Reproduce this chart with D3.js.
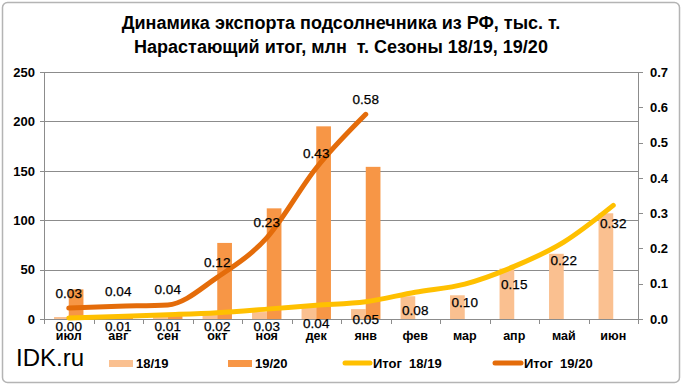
<!DOCTYPE html>
<html>
<head>
<meta charset="utf-8">
<title>Динамика экспорта подсолнечника</title>
<style type="text/css">
	body { margin: 0; background: #fff; }
	#chart { width: 682px; height: 389px; display: block; }
	text { font-family: "Liberation Sans", Arial, sans-serif; fill: #000; }
	.title { font-size: 18px; font-weight: bold; text-anchor: middle; }
	.tickLabel { font-size: 13px; font-weight: bold; }
	.monthLabel { font-size: 12.5px; font-weight: bold; text-anchor: middle; }
	.dataLabel { font-size: 13.5px; text-anchor: middle; stroke: #000; stroke-width: 0.25px; }
	.legendText { font-size: 13px; font-weight: bold; white-space: pre; }
	.grid { stroke: #8c8c8c; stroke-width: 1; shape-rendering: crispEdges; }
	.axisLine { stroke: #8c8c8c; stroke-width: 1; shape-rendering: crispEdges; }
</style>
</head>
<body>

<svg id="chart"></svg>

<script src="https://cdn.jsdelivr.net/npm/d3@7"></script>
<script>

// данные
var months = ['июл', 'авг', 'сен', 'окт', 'ноя', 'дек', 'янв', 'фев', 'мар', 'апр', 'май', 'июн'];
var seasons = ['18/19', '19/20'];

// экспорт за месяц, тыс. т
var export1819 = [2, 1, 3, 5, 7, 12, 10, 23, 24, 51, 66, 107];
var export1920 = [30, 4, 4, 77, 112, 195, 154];

// нарастающий итог, млн т
var total1819 = [0.003, 0.007, 0.012, 0.018, 0.028, 0.039, 0.049, 0.076, 0.099, 0.149, 0.218, 0.322];
var total1920 = [0.031, 0.036, 0.040, 0.118, 0.230, 0.428, 0.580];

var leftTicks = [0, 50, 100, 150, 200, 250];
var rightTicks = [0, 0.1, 0.2, 0.3, 0.4, 0.5, 0.6, 0.7];

var colors = {
	bar1819: '#fac090',
	bar1920: '#f79646',
	line1819: '#ffc000',
	line1920: '#e46c0a'
};

var svg = d3.select('#chart');

var plotLeft = 44, plotRight = 638, plotTop = 72, plotBottom = 319;

var x = d3.scaleBand().domain(months).range([plotLeft, plotRight]).padding(0);
var bw = x.bandwidth();
var groupWidth = bw * 0.594;
var xSub = d3.scaleBand().domain(seasons).range([0, groupWidth]);

var yLeft = d3.scaleLinear().domain([0, 250]).range([plotBottom, plotTop]);
var yRight = d3.scaleLinear().domain([0, 0.7]).range([plotBottom, plotTop]);

// рамка
svg.append('rect')
	.attr('x', 2.5).attr('y', 2.5)
	.attr('width', 677).attr('height', 380)
	.attr('rx', 5)
	.attr('fill', '#fff')
	.attr('stroke', '#b4b4b4')
	.attr('stroke-width', 1.5);

// заголовок
svg.append('text').classed('title', true)
	.attr('x', 341).attr('y', 29)
	.text('Динамика экспорта подсолнечника из РФ, тыс. т.');
svg.append('text').classed('title', true)
	.attr('x', 341).attr('y', 53)
	.style('white-space', 'pre')
	.text('Нарастающий итог, млн  т. Сезоны 18/19, 19/20');

// сетка
svg.append('g').selectAll('line')
	.data(leftTicks.slice(1))
	.enter().append('line')
	.classed('grid', true)
	.attr('x1', plotLeft).attr('x2', plotRight)
	.attr('y1', function(d) { return Math.round(yLeft(d)) + 0.5; })
	.attr('y2', function(d) { return Math.round(yLeft(d)) + 0.5; });

// столбики
function barData(values, season) {
	return values.map(function(v, i) { return {month: months[i], season: season, value: v}; });
}
var bars = barData(export1819, '18/19').concat(barData(export1920, '19/20'));

svg.append('g').selectAll('rect')
	.data(bars)
	.enter().append('rect')
	.attr('x', function(d) { return x(d.month) + (bw - groupWidth) / 2 + xSub(d.season); })
	.attr('width', xSub.bandwidth())
	.attr('y', function(d) { return yLeft(d.value); })
	.attr('height', function(d) { return plotBottom - yLeft(d.value); })
	.attr('fill', function(d) { return d.season === '18/19' ? colors.bar1819 : colors.bar1920; });

// оси
var axisG = svg.append('g');
axisG.append('line').classed('axisLine', true)
	.attr('x1', plotLeft + 0.5).attr('x2', plotLeft + 0.5)
	.attr('y1', plotTop).attr('y2', plotBottom + 5);
axisG.append('line').classed('axisLine', true)
	.attr('x1', plotRight + 0.5).attr('x2', plotRight + 0.5)
	.attr('y1', plotTop).attr('y2', plotBottom + 5);
axisG.append('line').classed('axisLine', true)
	.attr('x1', plotLeft).attr('x2', plotRight)
	.attr('y1', plotBottom + 0.5).attr('y2', plotBottom + 0.5);

axisG.selectAll('.leftTick')
	.data(leftTicks)
	.enter().append('line').classed('axisLine', true)
	.attr('x1', plotLeft - 4).attr('x2', plotLeft)
	.attr('y1', function(d) { return Math.round(yLeft(d)) + 0.5; })
	.attr('y2', function(d) { return Math.round(yLeft(d)) + 0.5; });

axisG.selectAll('.rightTick')
	.data(rightTicks)
	.enter().append('line').classed('axisLine', true)
	.attr('x1', plotRight).attr('x2', plotRight + 5)
	.attr('y1', function(d) { return Math.round(yRight(d)) + 0.5; })
	.attr('y2', function(d) { return Math.round(yRight(d)) + 0.5; });

axisG.selectAll('.bottomTick')
	.data(months.slice(1))
	.enter().append('line').classed('axisLine', true)
	.attr('x1', function(d) { return Math.round(x(d)) + 0.5; })
	.attr('x2', function(d) { return Math.round(x(d)) + 0.5; })
	.attr('y1', plotBottom).attr('y2', plotBottom + 5);

axisG.selectAll('.leftLabel')
	.data(leftTicks)
	.enter().append('text').classed('tickLabel', true)
	.attr('text-anchor', 'end')
	.attr('x', 35)
	.attr('y', function(d) { return yLeft(d) + 4.7; })
	.text(function(d) { return d; });

axisG.selectAll('.rightLabel')
	.data(rightTicks)
	.enter().append('text').classed('tickLabel', true)
	.attr('text-anchor', 'start')
	.attr('x', 650)
	.attr('y', function(d) { return yRight(d) + 4.7; })
	.text(function(d) { return d3.format('.1f')(d); });

axisG.selectAll('.monthLabel')
	.data(months)
	.enter().append('text').classed('monthLabel', true)
	.attr('x', function(d) { return x(d) + bw / 2; })
	.attr('y', 340)
	.text(function(d) { return d; });

// линии нарастающего итога
var line = d3.line()
	.x(function(d, i) { return x(months[i]) + bw / 2; })
	.y(function(d) { return yRight(d); })
	.curve(d3.curveMonotoneX);

svg.append('path')
	.attr('d', line(total1819))
	.attr('fill', 'none')
	.attr('stroke', colors.line1819)
	.attr('stroke-width', 5)
	.attr('stroke-linecap', 'round');

svg.append('path')
	.attr('d', line(total1920))
	.attr('fill', 'none')
	.attr('stroke', colors.line1920)
	.attr('stroke-width', 5)
	.attr('stroke-linecap', 'round');

// подписи данных
svg.append('g').selectAll('text')
	.data(total1819)
	.enter().append('text').classed('dataLabel', true)
	.attr('x', function(d, i) { return x(months[i]) + bw / 2; })
	.attr('y', function(d) { return Math.min(yRight(d) + 18, 326) + 4.6; })
	.text(function(d) { return d3.format('.2f')(d); });

svg.append('g').selectAll('text')
	.data(total1920)
	.enter().append('text').classed('dataLabel', true)
	.attr('x', function(d, i) { return x(months[i]) + bw / 2; })
	.attr('y', function(d) { return yRight(d) - 15 + 4.6; })
	.text(function(d) { return d3.format('.2f')(d); });

// подпись источника
svg.append('text')
	.attr('x', 16).attr('y', 366)
	.style('font-size', '24px')
	.text('IDK.ru');

// легенда
var legend = svg.append('g');
var legendItems = [
	{label: '18/19', type: 'rect', color: colors.bar1819, x0: 109, x1: 133},
	{label: '19/20', type: 'rect', color: colors.bar1920, x0: 228, x1: 252},
	{label: 'Итог  18/19', type: 'line', color: colors.line1819, x0: 345, x1: 370},
	{label: 'Итог  19/20', type: 'line', color: colors.line1920, x0: 495, x1: 521}
];

legendItems.forEach(function(item) {
	if (item.type === 'rect') {
		legend.append('rect')
			.attr('x', item.x0).attr('y', 360)
			.attr('width', item.x1 - item.x0).attr('height', 7)
			.attr('fill', item.color);
	} else {
		legend.append('line')
			.attr('x1', item.x0).attr('x2', item.x1)
			.attr('y1', 363).attr('y2', 363)
			.attr('stroke', item.color)
			.attr('stroke-width', 5)
			.attr('stroke-linecap', 'round');
	}
	legend.append('text').classed('legendText', true)
		.attr('x', item.x1 + 3).attr('y', 368)
		.text(item.label);
});

</script>

</body>
</html>
